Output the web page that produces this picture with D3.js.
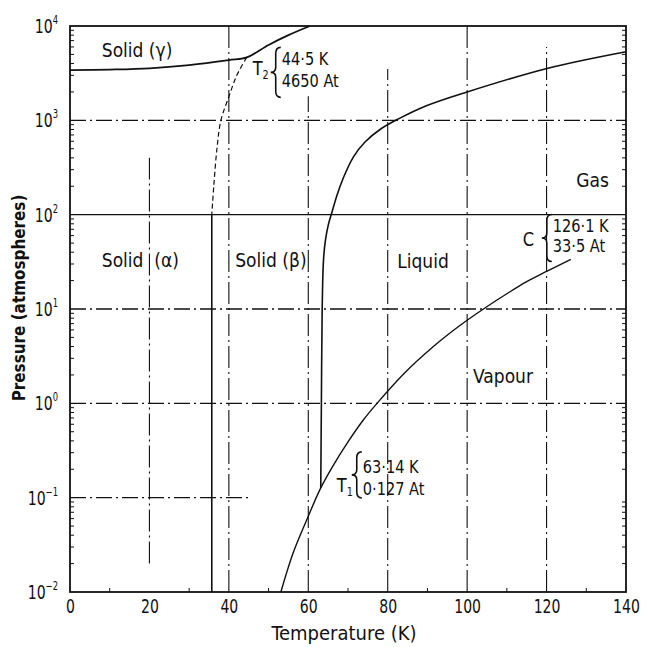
<!DOCTYPE html>
<html><head><meta charset="utf-8">
<script src="https://cdn.jsdelivr.net/npm/d3@7"></script>
<style>
html,body{margin:0;padding:0;background:#fff;}
svg text{font-family:"DejaVu Sans Condensed","DejaVu Sans",sans-serif;fill:#111;}
</style></head>
<body>
<svg id="c" width="648" height="647"></svg>
<script>
// ---- data (temperature K, pressure atm) ----
const gammaBoundary = [[0,3400],[10,3450],[20,3560],[30,3850],[40,4350],[44.5,4650],[50,6300],[55,8000],[60.4,10000]];
const alphaBetaDashed = [[44.5,4650],[42,3000],[40,1780],[38,1000],[37,500],[36.2,200],[35.7,100]];
const alphaBetaSolid = [[35.7,100],[35.7,0.01]];
const meltingCurve = [[63.14,0.127],[63.3,1],[63.5,10],[63.83,33],[64.33,54],[65.04,78],[65.9,104],[67.23,161],[68.82,245],[71.34,408],[74.28,589],[78.06,800],[82.6,1030],[89.9,1436],[100,2000],[120.1,3550],[140,5340]];
const vapourCurve = [[53.1,0.01],[56.2,0.026],[59.6,0.058],[63.14,0.127],[66,0.21],[70,0.39],[73.9,0.67],[77.3,1],[84,2.05],[91.5,4.0],[98,6.6],[104.1,10],[110,14.5],[115,19.5],[120,25],[126.1,33.5]];
const xTicks = [0,20,40,60,80,100,120,140];
const yExps = [-2,-1,0,1,2,3,4];
const xMinor = [10,30,50,70,90,110,130];
// grid: [value, from, to] in data units
const hGrid = [[1000,0,140],[100,0,140],[10,0,140],[1,0,140],[0.1,0,45.5]];
const vGrid = [[20,0.02,400],[40,0.01,10000],[60,0.01,1800],[80,0.01,3500],[100,0.01,10000],[120,0.01,6000]];
const regionLabels = [
  {t:"Solid (γ)", T:8, P:4650},
  {t:"Solid  (α)", T:8, P:28},
  {t:"Solid (β)", T:41.6, P:28},
  {t:"Liquid", T:82.4, P:27},
  {t:"Gas", T:127.5, P:197},
  {t:"Vapour", T:101.5, P:1.65}
];

const svg = d3.select("#c");
const x = d3.scaleLinear().domain([0,140]).range([70,626]);
const y = d3.scaleLog().domain([0.01,10000]).range([592,26]);
const line = d3.line().x(d=>x(d[0])).y(d=>y(d[1])).curve(d3.curveCatmullRom.alpha(0.5));

function txt(parent, px, py, s, size, anchor, sx){
  const t = parent.append("text")
    .attr("transform",`translate(${px},${py}) scale(${sx},1)`)
    .attr("font-size",size).attr("text-anchor",anchor||"start");
  if(s!=null) t.text(s);
  return t;
}

// grid
const dash = "16,4,2,4";
svg.append("g").selectAll("line").data(hGrid).join("line")
  .attr("x1",d=>x(d[1])).attr("x2",d=>x(d[2])).attr("y1",d=>y(d[0])).attr("y2",d=>y(d[0]))
  .attr("stroke","#111").attr("stroke-width",1.3)
  .attr("stroke-dasharray",(d,i)=> i===1 ? null : dash);
svg.append("g").selectAll("line").data(vGrid).join("line")
  .attr("x1",d=>x(d[0])).attr("x2",d=>x(d[0])).attr("y1",d=>y(d[1])).attr("y2",d=>y(d[2]))
  .attr("stroke","#111").attr("stroke-width",1.1).attr("stroke-dasharray","22,4,2,4");

// frame
svg.append("rect").attr("x",x(0)).attr("y",y(10000)).attr("width",x(140)-x(0)).attr("height",y(0.01)-y(10000))
  .attr("fill","none").attr("stroke","#111").attr("stroke-width",1.8);

// minor ticks on left & right (inside)
const minors=[];
for(let e=-2;e<4;e++) for(let m=2;m<10;m++) minors.push(m*Math.pow(10,e));
svg.append("g").selectAll("line").data(minors).join("line")
  .attr("x1",x(0)).attr("x2",x(0)+4).attr("y1",d=>y(d)).attr("y2",d=>y(d)).attr("stroke","#111").attr("stroke-width",1);
svg.append("g").selectAll("line").data(minors).join("line")
  .attr("x1",x(140)).attr("x2",x(140)-4).attr("y1",d=>y(d)).attr("y2",d=>y(d)).attr("stroke","#111").attr("stroke-width",1);
svg.append("g").selectAll("line").data(xMinor).join("line")
  .attr("x1",d=>x(d)).attr("x2",d=>x(d)).attr("y1",y(0.01)).attr("y2",y(0.01)-4).attr("stroke","#111").attr("stroke-width",1);

// x axis labels (through axis generator for positions)
const xAxis = d3.axisBottom(x).tickValues(xTicks).tickSize(0).tickPadding(0).tickFormat(d3.format("d"));
const gx = svg.append("g").attr("transform",`translate(0,${y(0.01)})`).call(xAxis);
gx.select(".domain").remove();
gx.selectAll("text").attr("font-size",20).attr("dy",null).attr("y",21)
  .attr("transform","scale(0.78,1)")
  .style("font-family",'"DejaVu Sans Condensed","DejaVu Sans",sans-serif').attr("fill","#111");

// y axis labels
const gy = svg.append("g");
yExps.forEach(e=>{
  const t = txt(gy, x(0)-12, y(Math.pow(10,e))+7, null, 20, "end", 0.78);
  t.append("tspan").text("10");
  t.append("tspan").attr("dy",-9).attr("font-size",12).text(e<0? "−"+(-e) : String(e));
});

// axis titles
txt(svg, 344, 640, "Temperature (K)", 20, "middle", 1.0);
svg.append("text").attr("transform","translate(25,298) rotate(-90) scale(0.94,1)").attr("text-anchor","middle")
  .attr("font-size",18).attr("font-weight","bold").text("Pressure (atmospheres)");

// curves
const curves = svg.append("g").attr("fill","none").attr("stroke","#111");
curves.append("path").datum(gammaBoundary).attr("d",line).attr("stroke-width",1.8);
curves.append("path").datum(alphaBetaDashed).attr("d",line).attr("stroke-width",1.2).attr("stroke-dasharray","5,3");
curves.append("path").datum(alphaBetaSolid).attr("d",d3.line().x(d=>x(d[0])).y(d=>y(d[1]))).attr("stroke-width",1.6);
curves.append("path").datum(meltingCurve).attr("d",line).attr("stroke-width",1.6);
curves.append("path").datum(vapourCurve).attr("d",line).attr("stroke-width",1.4);

// region labels
const gl = svg.append("g");
regionLabels.forEach(d=> txt(gl, x(d.T), y(d.P), d.t, 19, "start", 1.0).style("white-space","pre"));

// braces
function brace(xr, y0, y1){
  const w=5, ym=(y0+y1)/2;
  return `M${xr},${y0} Q${xr-w},${y0} ${xr-w},${y0+6} L${xr-w},${ym-5} Q${xr-w},${ym} ${xr-w*2},${ym} Q${xr-w},${ym} ${xr-w},${ym+5} L${xr-w},${y1-6} Q${xr-w},${y1} ${xr},${y1}`;
}
function annot(lx, lb, lab, sub, bx, by0, by1, l1, b1, l2, b2){
  const g = svg.append("g");
  const t = txt(g, lx, lb, null, 20, "start", 0.9);
  t.append("tspan").text(lab);
  if(sub) t.append("tspan").attr("dy",4).attr("font-size",12).text(sub);
  g.append("path").attr("d",brace(bx, by0, by1)).attr("fill","none").attr("stroke","#111").attr("stroke-width",1.6);
  txt(g, bx+1, b1, l1, 18, "start", 0.9);
  txt(g, bx+1, b2, l2, 18, "start", 0.9);
}
// positions relative to the annotated points
const pT2=[x(44.5),y(4650)], pT1=[x(63.14),y(0.127)], pC=[x(126.1),y(33.5)];
annot(pT2[0]+6, pT2[1]+18, "T", "2", pT2[0]+34, pT2[1]-10, pT2[1]+40, "44·5 K", pT2[1]+8, "4650 At", pT2[1]+30);
annot(pT1[0]+16, pT1[1]+4, "T", "1", pT1[0]+41, pT1[1]-36, pT1[1]+10, "63·14 K", pT1[1]-15, "0·127 At", pT1[1]+7);
annot(pC[0]-48, pC[1]-13, "C", null, pC[0]-19, pC[1]-45, pC[1]+2, "126·1 K", pC[1]-27, "33·5 At", pC[1]-7);
</script>
</body></html>
